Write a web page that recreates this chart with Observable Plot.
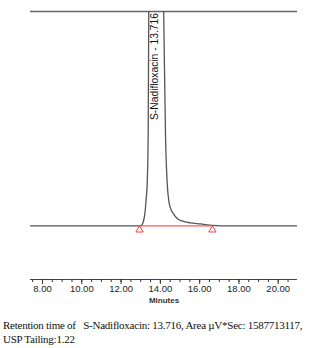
<!DOCTYPE html>
<html><head><meta charset="utf-8">
<script src="https://cdn.jsdelivr.net/npm/d3@7"></script>
<script src="https://cdn.jsdelivr.net/npm/@observablehq/plot@0.6"></script>
<style>
body{margin:0;background:#fff}
#cap{font-family:"Liberation Serif","Times New Roman",serif;font-size:11px;letter-spacing:-0.25px;line-height:14px;margin:13px 0 0 3px;color:#111;white-space:pre}
</style>
</head><body><div id="chart"></div><div id="cap"></div>
<script>
// chromatogram trace (minutes, relative response; 1 = top of window)
const times  = [7.39, 12.94, 13.07, 13.14, 13.21, 13.27, 13.33, 13.38, 13.41, 13.5, 13.716, 13.95, 14.17, 14.26, 14.35, 14.43, 14.51, 14.67, 14.87, 15.11, 15.53, 16.04, 16.65, 17.06, 20.98];
const signal = [0, 0, 0.005, 0.023, 0.056, 0.117, 0.196, 0.43, 1.0, 2.0, 3.0, 2.0, 1.0, 0.43, 0.196, 0.117, 0.084, 0.056, 0.033, 0.023, 0.014, 0.009, 0.002, 0, 0];
// integration start / end markers
const markTimes = [12.94, 16.65];
const markValues = [0, 0];
// peak label
const peakName = "S-Nadifloxacin";
const peakRT = 13.716;
// axis ticks
const majorTicks = [8, 10, 12, 14, 16, 18, 20];
const minorTicks = [7.5, 8, 8.5, 9, 9.5, 10, 10.5, 11, 11.5, 12, 12.5, 13, 13.5, 14, 14.5, 15, 15.5, 16, 16.5, 17, 17.5, 18, 18.5, 19, 19.5, 20, 20.5];
const xDomain = [7.39, 20.98];
const yDomain = [-0.25, 1];

const trace = times.map((t, i) => ({t, v: signal[i]}));
const marks = markTimes.map((t, i) => ({t, v: markValues[i]}));

const chart = Plot.plot({
  width: 323, height: 305,
  marginTop: 11, marginRight: 26, marginBottom: 26, marginLeft: 30,
  style: {fontFamily: "'Liberation Sans', Arial, sans-serif", color: "#222", background: "#fff"},
  x: {domain: xDomain},
  y: {domain: yDomain, axis: null},
  marks: [
    Plot.ruleY([yDomain[1]], {x1: xDomain[0], x2: xDomain[1], stroke: "#666", strokeWidth: 1.5}),
    Plot.ruleY([yDomain[0]], {x1: xDomain[0], x2: xDomain[1], stroke: "#444", strokeWidth: 1}),
    Plot.line(trace, {x: "t", y: "v", stroke: "#555", strokeWidth: 1.3, curve: "monotone-x", clip: true}),
    Plot.line(marks, {x: "t", y: "v", stroke: "#ff5a5a", strokeWidth: 1.2}),
    Plot.dot(marks, {x: "t", y: "v", symbol: "triangle", r: 2.7, stroke: "#ff3b3b", strokeWidth: 1, fill: "none", dy: 4}),
    Plot.text([{t: peakRT, v: yDomain[1]}], {x: "t", y: "v", text: () => `${peakName} - ${peakRT.toFixed(3)}`, rotate: -90, textAnchor: "end", dy: 1.5, fontSize: 10.3, fill: "#111"}),
    Plot.axisX({ticks: minorTicks, tickSize: 3, text: null, label: null, stroke: "#333"}),
    Plot.axisX({ticks: majorTicks, tickSize: 5, tickPadding: 1, tickFormat: d => d.toFixed(2), fontSize: 9.5, label: "Minutes", labelAnchor: "center", labelArrow: "none", stroke: "#333"})
  ]
});
document.getElementById("chart").appendChild(chart);
chart.querySelectorAll("g[aria-label='x-axis label'] text").forEach(t => {t.setAttribute("font-size", "8"); t.setAttribute("font-weight", "bold"); t.setAttribute("fill", "#333");});
document.getElementById("cap").textContent = `Retention time of   ${peakName}: ${peakRT.toFixed(3)}, Area \u00b5V*Sec: 1587713117,\nUSP Tailing:1.22`;
</script>
</body></html>
